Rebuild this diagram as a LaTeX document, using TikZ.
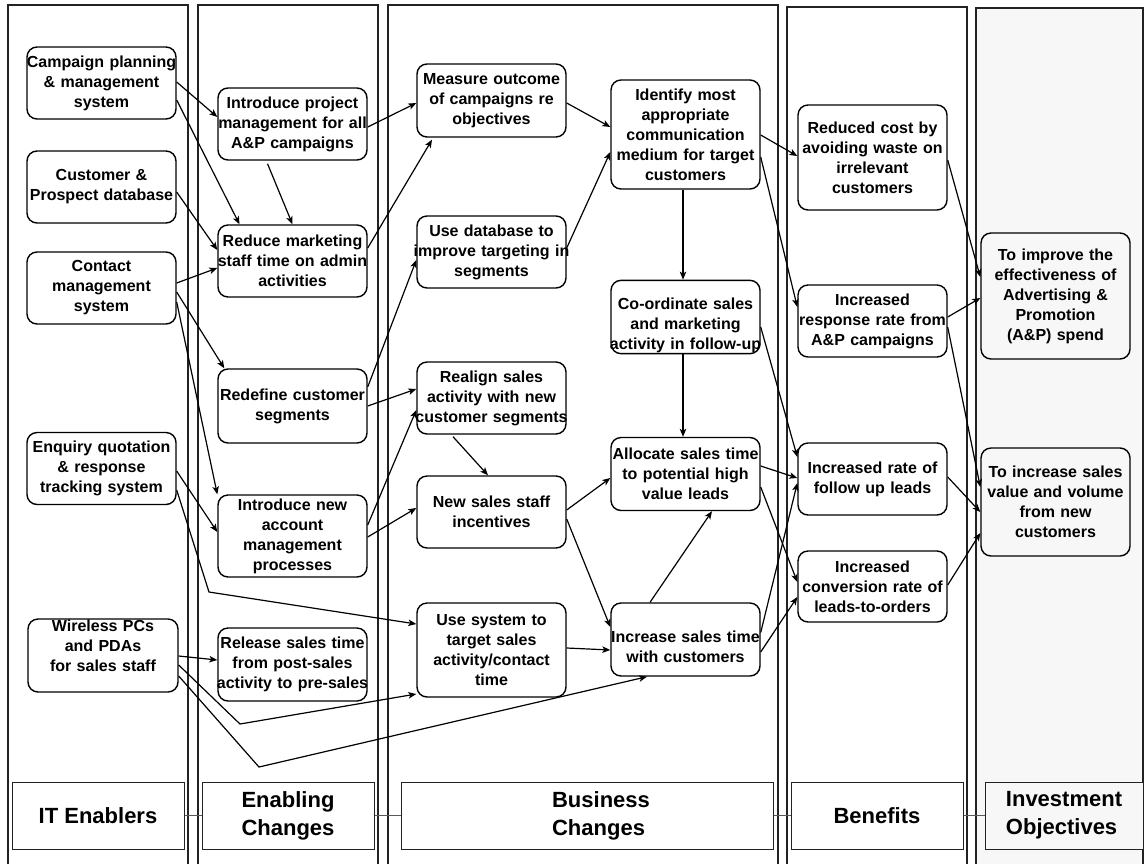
\documentclass[tikz,border=0pt]{standalone}
\usepackage{fontspec}
\setmainfont{Liberation Sans}
\usetikzlibrary{arrows.meta,calc}
\definecolor{pale}{HTML}{F7F7F7}
\definecolor{rule}{HTML}{222222}
% centred lines that may run a little past the box edge on both sides
\newcommand\widecentre{\centering\leftskip=-9pt plus 1fil\rightskip=-9pt plus 1fil}
\begin{document}
\begin{tikzpicture}[x=1pt,y=-1pt,
  lane/.style={draw=rule, line width=1.1pt},
  box/.style={draw=black, line width=1.4pt, rounded corners=10pt, fill=white,
    text width=147pt, inner xsep=1pt, inner ysep=1pt,
    execute at begin node=\widecentre,
    font=\bfseries\fontsize{16}{20}\selectfont},
  goal/.style={box, fill=pale},
  hdr/.style={draw=rule, line width=1pt, fill=white, align=left, inner sep=0pt,
    minimum height=67pt, font=\bfseries\fontsize{22}{28}\selectfont},
  tie/.style={draw=black!65, line width=1pt},
  arr/.style={draw=black, line width=1.2pt, -{Stealth[length=8pt,width=6.5pt,inset=2pt]}}]

\useasboundingbox (0,0) rectangle (1145,863);

% swim lanes (they run off the bottom edge)
\begin{scope}
  \clip (0,0) rectangle (1145,863);
  \path[lane] (8,5) rectangle (188,880);
  \path[lane] (198,5) rectangle (378,880);
  \path[lane] (388,5) rectangle (778,880);
  \path[lane] (787,7) rectangle (967,880);
  \path[lane, fill=pale] (976,8) rectangle (1143,880);
\end{scope}

% lane headings
\node[hdr, minimum width=172pt, align=center] (h1) at (98,815.5) {IT Enablers};
\node[hdr, minimum width=172pt] (h2) at (288,815.5) {Enabling\\Changes};
\node[hdr, minimum width=372pt] (h3) at (587,815.5) {\hspace*{28pt}Business\\\hspace*{28pt}Changes};
\node[hdr, minimum width=172pt, align=center] (h4) at (877,815.5) {Benefits};
\node[hdr, minimum width=158pt, fill=pale] (h5) at (1064,815.5) {Investment\\Objectives};
\draw[tie] (h1.east) -- (h2.west);
\draw[tie] (h2.east) -- (h3.west);
\draw[tie] (h3.east) -- (h4.west);
\draw[tie] (h4.east) -- (h5.west);

% IT enablers
\node[box, minimum height=72pt] (cps) at (101.5,83) {Campaign planning\\\& management\\system};
\node[box, minimum height=72pt] (cpd) at (101.5,187) {Customer \&\\Prospect database};
\node[box, minimum height=72pt] (cms) at (101.5,288) {Contact\\management\\system};
\node[box, minimum height=72pt] (eqt) at (101.5,468.5) {Enquiry quotation\\\& response\\tracking system};
\node[box, minimum height=73pt, text width=148pt] (wpc) at (103,655.5) {Wireless PCs\\and PDAs\\for sales staff\rule[-19pt]{0pt}{19pt}};

% enabling changes
\node[box, minimum height=72pt] (ipm) at (292.5,124) {Introduce project\\management for all\\A\&P campaigns};
\node[box, minimum height=72pt] (rms) at (292.5,261) {Reduce marketing\\staff time on admin\\activities};
\node[box, minimum height=74pt] (rcs) at (292.5,406) {Redefine customer\\segments};
\node[box, minimum height=82pt] (inam) at (292.5,536) {Introduce new\\account\\management\\processes};
\node[box, minimum height=73pt] (rst) at (292.5,664.5) {Release sales time\\from post-sales\\activity to pre-sales};

% business changes
\node[box, minimum height=73pt] (moc) at (491.5,100.5) {Measure outcome\\of campaigns re\\objectives};
\node[box, minimum height=72pt] (udb) at (491.5,252) {Use database to\\improve targeting in\\segments};
\node[box, minimum height=72pt] (rsa) at (491.5,398) {Realign sales\\activity with new\\customer segments};
\node[box, minimum height=72pt] (nsi) at (491.5,512) {New sales staff\\incentives};
\node[box, minimum height=94pt] (ust) at (491.5,650) {Use system to\\target sales\\activity/contact\\time};
\node[box, minimum height=109pt] (idm) at (685.5,134.5) {Identify most\\appropriate\\communication\\medium for target\\customers};
\node[box, minimum height=72pt] (csm) at (685.5,317) {\rule{0pt}{28pt}Co-ordinate sales\\and marketing\\activity in follow-up};
\node[box, minimum height=73pt] (ast) at (685.5,474) {Allocate sales time\\to potential high\\value leads};
\node[box, minimum height=73pt] (ist) at (685.5,639.5) {\rule{0pt}{27pt}Increase sales time\\with customers};

% benefits
\node[box, minimum height=105pt] (rcb) at (872.5,157.5) {Reduced cost by\\avoiding waste on\\irrelevant\\customers};
\node[box, minimum height=72pt] (irr) at (872.5,321) {Increased\\response rate from\\A\&P campaigns};
\node[box, minimum height=72pt] (irf) at (872.5,479) {Increased rate of\\follow up leads};
\node[box, minimum height=71pt] (icr) at (872.5,586.5) {Increased\\conversion rate of\\leads-to-orders};

% investment objectives
\node[goal, minimum height=126pt] (tie) at (1055.5,296) {To improve the\\effectiveness of\\Advertising \&\\Promotion\\(A\&P) spend};
\node[goal, minimum height=108pt] (tis) at (1055.5,502) {To increase sales\\value and volume\\from new\\customers};

% bend points of the long connectors
\coordinate (b1) at (209,592);
\coordinate (b2) at (240,724);
\coordinate (b3) at (259,767);

% IT enablers -> enabling changes
\draw[arr] ($(cps.east)+(0,-1)$) -- ($(ipm.west)+(0,-7)$);
\draw[arr] ($(cps.east)+(0,17)$) -- ($(rms.north)+(-53,0)$);
\draw[arr] ($(ipm.south)+(-25,3)$) -- ($(rms.north)+(0,0)$);
\draw[arr] ($(cpd.east)+(0,5)$) -- ($(rms.west)+(0,-11)$);
\draw[arr] ($(cms.east)+(0,-5)$) -- ($(rms.west)+(0,7)$);
\draw[arr] ($(cms.east)+(0,4)$) -- ($(rcs.north west)+(7,0)$);
\draw[arr] ($(cms.east)+(0,14)$) -- (inam.north west);
\draw[arr] ($(eqt.east)+(0,2.5)$) -- ($(inam.west)+(0,-4)$);
\draw[arr] ($(eqt.east)+(0,21.5)$) -- (b1) -- ($(ust.west)+(0,-26)$);
\draw[arr] ($(wpc.east)+(0,0.5)$) -- ($(rst.west)+(0,-4.5)$);
\draw[arr] ($(wpc.east)+(0,9.5)$) -- (b2) -- ($(ust.west)+(0,44)$);
\draw[arr] ($(wpc.east)+(0,20.5)$) -- (b3) -- ($(ist.south)+(-38.5,0)$);

% enabling changes -> business changes
\draw[arr] ($(ipm.east)+(0,3)$) -- ($(moc.west)+(0,2.5)$);
\draw[arr] ($(rms.east)+(0,-13)$) -- ($(moc.south)+(-59.5,2)$);
\draw[arr] ($(rcs.east)+(0,-19)$) -- ($(udb.west)+(0,8)$);
\draw[arr] (rcs.east) -- ($(rsa.west)+(0,-9)$);
\draw[arr] ($(inam.east)+(0,-11)$) -- ($(rsa.west)+(0,12)$);
\draw[arr] ($(inam.east)+(0,1)$) -- ($(nsi.west)+(0,-4)$);

% within business changes
\draw[arr] ($(moc.east)+(0,2.5)$) -- ($(idm.west)+(0,-7.5)$);
\draw[arr] ($(udb.east)+(0,-4)$) -- ($(idm.west)+(0,17.5)$);
\draw[arr] ($(rsa.south)+(-38.5,2)$) -- ($(nsi.north)+(-3.5,0)$);
\draw[arr] ($(nsi.east)+(0,-2)$) -- ($(ast.west)+(0,4)$);
\draw[arr] ($(nsi.east)+(0,7)$) -- ($(ist.west)+(0,-12.5)$);
\draw[arr] ($(ust.east)+(0,-2)$) -- ($(ist.west)+(0,10.5)$);
\draw[arr] ($(ist.north)+(-35.5,0)$) -- ($(ast.south)+(26.5,0)$);
\draw[arr] ($(idm.south)+(-2.5,0)$) -- ($(csm.north)+(-2.5,0)$);
\draw[arr] ($(csm.south)+(-2.5,0)$) -- ($(ast.north)+(-2.5,0)$);

% business changes -> benefits
\draw[arr] ($(idm.east)+(0,0.5)$) -- ($(rcb.west)+(0,-1.5)$);
\draw[arr] ($(idm.east)+(0,22.5)$) -- ($(irr.west)+(0,-14)$);
\draw[arr] ($(csm.east)+(0,10)$) -- ($(irf.west)+(0,-22)$);
\draw[arr] ($(ast.east)+(0,-8)$) -- ($(irf.west)+(0,-1)$);
\draw[arr] ($(ast.east)+(0,13)$) -- ($(icr.west)+(0,-4.5)$);
\draw[arr] ($(ist.east)+(0,-7)$) -- ($(irf.west)+(0,4)$);
\draw[arr] ($(ist.east)+(0,12.5)$) -- ($(icr.west)+(0,10.5)$);

% benefits -> investment objectives
\draw[arr] ($(rcb.east)+(0,2.5)$) -- ($(tie.west)+(0,-19)$);
\draw[arr] ($(irr.east)+(0,-4)$) -- ($(tie.west)+(0,2)$);
\draw[arr] ($(irr.east)+(0,6)$) -- ($(tis.west)+(0,-15)$);
\draw[arr] ($(irf.east)+(0,-2)$) -- ($(tis.west)+(0,10)$);
\draw[arr] ($(icr.east)+(0,-1.5)$) -- ($(tis.west)+(0,31)$);
\end{tikzpicture}
\end{document}
